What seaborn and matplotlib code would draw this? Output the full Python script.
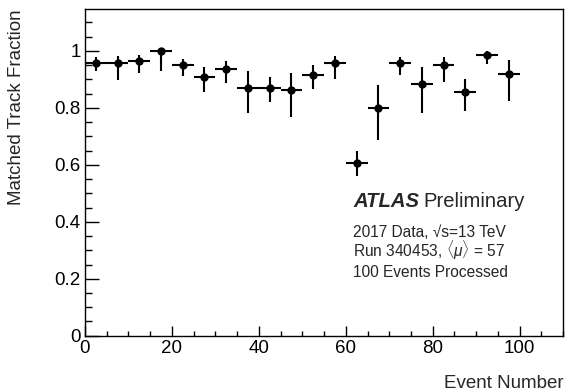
import numpy as np
import pandas as pd
import matplotlib
matplotlib.use("Agg")
import matplotlib.pyplot as plt
import seaborn as sns
from matplotlib.ticker import MultipleLocator

event = [2.5, 7.5, 12.5, 17.5, 22.5, 27.5, 32.5, 37.5, 42.5, 47.5,
         52.5, 57.5, 62.5, 67.5, 72.5, 77.5, 82.5, 87.5, 92.5, 97.5]
fraction = [0.959, 0.957, 0.966, 1.000, 0.951, 0.910, 0.936, 0.871, 0.869, 0.862,
            0.917, 0.957, 0.607, 0.799, 0.957, 0.884, 0.951, 0.854, 0.986, 0.919]
err_up = [0.019, 0.026, 0.019, 0.000, 0.020, 0.035, 0.028, 0.057, 0.039, 0.062,
          0.034, 0.026, 0.043, 0.082, 0.021, 0.061, 0.029, 0.047, 0.012, 0.049]
err_dn = [0.029, 0.059, 0.042, 0.070, 0.039, 0.056, 0.049, 0.090, 0.050, 0.095,
          0.051, 0.056, 0.046, 0.111, 0.042, 0.101, 0.059, 0.064, 0.032, 0.095]
bin_half = [2.5] * 20

df = pd.DataFrame({"event": event, "fraction": fraction})

sns.set_theme(style="ticks")
plt.rcParams["font.family"] = ["Liberation Sans", "DejaVu Sans"]
plt.rcParams["mathtext.fontset"] = "custom"
plt.rcParams["mathtext.rm"] = "Liberation Sans"
plt.rcParams["mathtext.it"] = "Liberation Sans:italic"

fig = plt.figure(figsize=(5.66, 3.91), dpi=100)
ax = fig.add_axes([0.150, 0.1414, 0.845, 0.8356])

ax.errorbar(event, fraction, xerr=bin_half, yerr=[err_dn, err_up],
            fmt="none", ecolor="black", elinewidth=1.5, capsize=0, zorder=2)
sns.scatterplot(data=df, x="event", y="fraction", ax=ax, color="black",
                s=36, edgecolor="black", linewidth=0, zorder=3, legend=False)

ax.set_xlim(0, 110)
ax.set_ylim(0, 1.147)
ax.xaxis.set_minor_locator(MultipleLocator(5))
ax.yaxis.set_minor_locator(MultipleLocator(0.05))
ax.set_xticks([0, 20, 40, 60, 80, 100])
ax.set_xticklabels(["0", "20", "40", "60", "80", "100"])
ax.set_yticks([0, 0.2, 0.4, 0.6, 0.8, 1.0])
ax.set_yticklabels(["0", "0.2", "0.4", "0.6", "0.8", "1"])
ax.tick_params(which="both", direction="in", width=1, labelsize=13.5,
               colors="black", pad=3)
ax.tick_params(axis="x", which="major", length=7)
ax.tick_params(axis="x", which="minor", length=3.5)
ax.tick_params(axis="y", which="major", length=10)
ax.tick_params(axis="y", which="minor", length=5)
for s in ax.spines.values():
    s.set_linewidth(1)
    s.set_color("black")

ax.set_xlabel("Event Number", fontsize=13.5, loc="right", labelpad=13)
ax.set_ylabel("Matched Track Fraction", fontsize=13.5, loc="top", labelpad=21)

ax.text(0.561, 0.393, "ATLAS", transform=ax.transAxes, fontsize=14.6,
        fontweight="bold", fontstyle="italic", va="baseline")
ax.text(0.707, 0.393, "Preliminary", transform=ax.transAxes, fontsize=14.6,
        va="baseline")
ax.text(0.561, 0.301, "2017 Data, \u221as=13 TeV", transform=ax.transAxes,
        fontsize=11.2, va="baseline")
ax.text(0.561, 0.240, r"Run 340453, $\langle\mu\rangle$ = 57", transform=ax.transAxes,
        fontsize=11.2, va="baseline")
ax.text(0.561, 0.179, "100 Events Processed", transform=ax.transAxes,
        fontsize=11.2, va="baseline")

fig.savefig("out.png", dpi=100)
